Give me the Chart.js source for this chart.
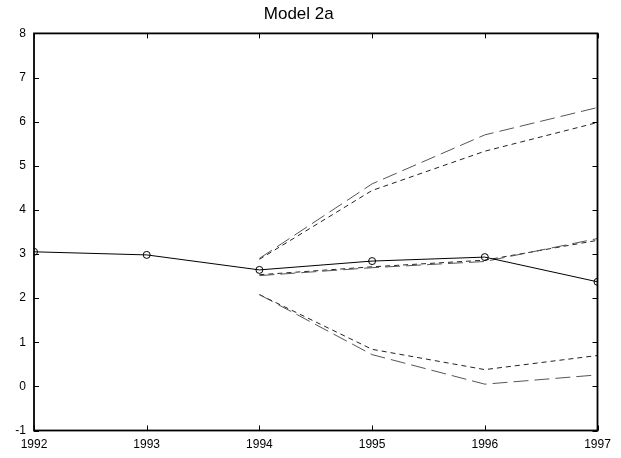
<!DOCTYPE html>
<html>
<head>
<meta charset="utf-8">
<script src="https://cdn.jsdelivr.net/npm/chart.js@4/dist/chart.umd.min.js"></script>
<style>
body{margin:0;background:#fff;}
#box{width:621px;height:458px;}
</style>
</head>
<body>
<div id="box"><canvas id="grafico"></canvas></div>
<script>
var anios = [1992, 1993, 1994, 1995, 1996, 1997];
var yTicks = [-1, 0, 1, 2, 3, 4, 5, 6, 7, 8];
var real      = [3.05, 2.98, 2.64, 2.84, 2.93, 2.37];
var altoLargo = [null, null, 2.90, 4.59, 5.70, 6.32];
var altoCorto = [null, null, 2.88, 4.44, 5.33, 5.98];
var medLargo  = [null, null, 2.51, 2.69, 2.83, 3.35];
var medCorto  = [null, null, 2.53, 2.71, 2.86, 3.31];
var bajoLargo = [null, null, 2.08, 0.72, 0.05, 0.26];
var bajoCorto = [null, null, 2.08, 0.84, 0.38, 0.70];

function puntos(arr){
	var out = [];
	for(var i=0;i<anios.length;i++){
		if(arr[i]!=null) out.push({x:anios[i], y:arr[i]});
	}
	return out;
}

function serie(arr, color, dash){
	return {
		data: puntos(arr),
		borderColor: color,
		borderWidth: 1,
		borderDash: dash,
		pointRadius: 0,
		fill: false,
		tension: 0
	};
}

// marco y ticks hacia adentro, como en el original
var marco = {
	id: 'marco',
	afterDraw: function(chart){
		var c = chart.ctx, a = chart.chartArea;
		var sx = chart.scales.x, sy = chart.scales.y;
		c.save();
		c.strokeStyle = '#000';
		c.lineWidth = 1;
		for(var i=0;i<anios.length;i++){
			var px = Math.round(sx.getPixelForValue(anios[i])) + 0.5;
			c.beginPath();
			c.moveTo(px, a.bottom); c.lineTo(px, a.bottom-5);
			c.moveTo(px, a.top); c.lineTo(px, a.top+5);
			c.stroke();
		}
		for(var j=0;j<yTicks.length;j++){
			var py = Math.round(sy.getPixelForValue(yTicks[j])) + 0.5;
			c.beginPath();
			c.moveTo(a.left, py); c.lineTo(a.left+5, py);
			c.moveTo(a.right, py); c.lineTo(a.right-5, py);
			c.stroke();
		}
		c.lineWidth = 1.8;
		c.strokeRect(a.left, a.top, a.right-a.left, a.bottom-a.top);
		c.restore();
	}
};

var grafico = new Chart(document.getElementById('grafico'), {
	type: 'line',
	data: {
		datasets: [
			{
				data: puntos(real),
				borderColor: '#000',
				borderWidth: 1,
				pointRadius: 3.5,
				pointBorderColor: '#000',
				pointBackgroundColor: 'rgba(0,0,0,0)',
				pointBorderWidth: 1,
				fill: false,
				tension: 0
			},
			serie(altoLargo, '#555', [15,6]),
			serie(altoCorto, '#222', [5,4]),
			serie(medLargo, '#555', [15,6]),
			serie(medCorto, '#222', [5,4]),
			serie(bajoLargo, '#555', [15,6]),
			serie(bajoCorto, '#222', [5,4])
		]
	},
	plugins: [marco],
	options: {
		responsive: true,
		maintainAspectRatio: false,
		animation: false,
		events: [],
		layout: { padding: { left: 0, right: 23.5, top: 0, bottom: 0 }, autoPadding: false },
		plugins: {
			legend: { display: false },
			tooltip: { enabled: false },
			title: {
				display: true,
				text: 'Model 2a',
				color: '#000',
				font: { family: 'Liberation Sans, Arial', size: 17, weight: 'normal' },
				padding: { top: 4, bottom: 9 }
			}
		},
		scales: {
			x: {
				type: 'linear',
				min: 1992, max: 1997,
				afterBuildTicks: function(s){ s.ticks = anios.map(function(v){ return {value:v}; }); },
				afterFit: function(s){ s.height = 27.5; },
				border: { display: false },
				grid: { display: false, drawTicks: false },
				ticks: {
					color: '#000', padding: 7, maxRotation: 0,
					font: { family: 'Liberation Sans, Arial', size: 12 },
					callback: function(v){ return String(v); }
				}
			},
			y: {
				min: -1, max: 8,
				afterBuildTicks: function(s){ s.ticks = yTicks.map(function(v){ return {value:v}; }); },
				afterFit: function(s){ s.width = 34; },
				border: { display: false },
				grid: { display: false, drawTicks: false },
				ticks: {
					color: '#000', padding: 8,
					font: { family: 'Liberation Sans, Arial', size: 12 }
				}
			}
		}
	}
});
</script>
</body>
</html>
